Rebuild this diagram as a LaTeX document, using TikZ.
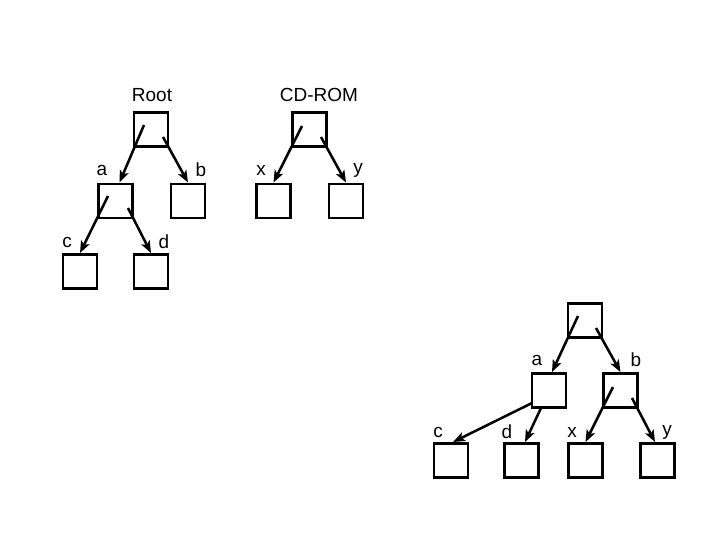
\documentclass[tikz,border=0pt]{standalone}
\usepackage{fontspec}
\setmainfont{Liberation Sans}
\usetikzlibrary{arrows.meta}

\tikzset{
  dirbox/.style={draw, line width=1.8pt, minimum size=0.86cm, inner sep=0pt},
  ptr/.style={line width=1.8pt, -{Stealth[length=3mm, width=2.3mm, inset=0.7mm]}},
  lbl/.style={inner sep=0pt, font=\fontsize{13.5}{16}\selectfont}
}

\begin{document}
\begin{tikzpicture}[x=0.025cm, y=-0.025cm]
  \useasboundingbox (0,0) rectangle (720,540);

  % first tree, on the hard disk
  \node[dirbox] (root) at (151,129.5) {};
  \node[dirbox] (a) at (115.5,201) {};
  \node[dirbox] (b) at (188,201) {};
  \node[dirbox] (c) at (80,271.5) {};
  \node[dirbox] (d) at (151,271.5) {};

  \draw[ptr] ([shift={(-7,-4.5)}]root.center) -- ([shift={(4,0)}]a.north);
  \draw[ptr] ([shift={(12,7.5)}]root.center) -- (b.north);
  \draw[ptr] ([shift={(-7.5,-5)}]a.center) -- (c.north);
  \draw[ptr] ([shift={(12.5,7)}]a.center) -- (d.north);

  \node[lbl] at (152,95) {Root};
  \node[lbl] at (102,170) {a};
  \node[lbl] at (201,170) {b};
  \node[lbl] at (67,242) {c};
  \node[lbl] at (164,242) {d};

  % second tree, on the CD-ROM
  \node[dirbox] (cd) at (309.5,129.5) {};
  \node[dirbox] (x) at (273.5,201) {};
  \node[dirbox] (y) at (346,201) {};

  \draw[ptr] ([shift={(-7.5,-3.5)}]cd.center) -- (x.north);
  \draw[ptr] ([shift={(11.5,7.5)}]cd.center) -- (y.north);

  \node[lbl] at (319,95) {CD-ROM};
  \node[lbl] at (261,170) {x};
  \node[lbl] at (358,170) {y};

  % mounted tree
  \node[dirbox] (mroot) at (585,320.5) {};
  \node[dirbox] (ma) at (549,390.5) {};
  \node[dirbox] (mb) at (620.5,390.5) {};
  \node[dirbox] (mc) at (451,460.5) {};
  \node[dirbox] (md) at (521.5,460.5) {};
  \node[dirbox] (mx) at (585.5,460.5) {};
  \node[dirbox] (my) at (657.5,460.5) {};

  \draw[ptr] ([shift={(-7,-4.5)}]mroot.center) -- ([shift={(3,0)}]ma.north);
  \draw[ptr] ([shift={(11,7.5)}]mroot.center) -- (mb.north);
  \draw[ptr] ([shift={(-17,12.5)}]ma.center) -- ([shift={(2,0)}]mc.north);
  \draw[ptr] ([shift={(-8,17.5)}]ma.center) -- ([shift={(3.5,0)}]md.north);
  \draw[ptr] ([shift={(-7.5,-3.5)}]mb.center) -- (mx.north);
  \draw[ptr] ([shift={(11.5,7.5)}]mb.center) -- ([shift={(-2.5,0)}]my.north);

  \node[lbl] at (537,360) {a};
  \node[lbl] at (636,360) {b};
  \node[lbl] at (438,432) {c};
  \node[lbl] at (507,432) {d};
  \node[lbl] at (572,432) {x};
  \node[lbl] at (667,432) {y};
\end{tikzpicture}
\end{document}
